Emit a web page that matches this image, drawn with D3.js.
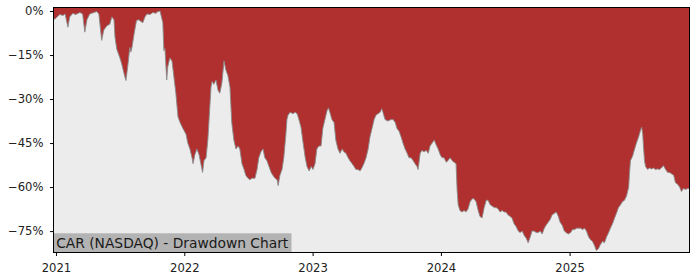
<!DOCTYPE html>
<html>
<head>
<meta charset="utf-8">
<script src="https://cdn.jsdelivr.net/npm/d3@7"></script>
<style>
  body { margin: 0; background: #fff; }
  svg text { font-family: "DejaVu Sans", sans-serif; }
</style>
</head>
<body>
<div class="chart"></div>
<script>
// drawdown of CAR (NASDAQ) in percent
const dates = [
  "2020-12-25","2020-12-29","2021-01-04","2021-01-12","2021-01-21","2021-01-27","2021-02-04","2021-02-09","2021-02-18","2021-02-26",
  "2021-03-10","2021-03-18","2021-03-24","2021-03-30","2021-04-07","2021-04-19","2021-04-27","2021-05-03","2021-05-11","2021-05-17",
  "2021-05-26","2021-06-03","2021-06-09","2021-06-15","2021-06-18","2021-06-23","2021-07-02","2021-07-07","2021-07-13","2021-07-19",
  "2021-07-25","2021-07-30","2021-08-02","2021-08-05","2021-08-11","2021-08-18","2021-08-25","2021-08-31","2021-09-05","2021-09-11",
  "2021-09-17","2021-09-25","2021-10-04","2021-10-12","2021-10-18","2021-10-24","2021-10-28","2021-11-01","2021-11-04","2021-11-07",
  "2021-11-12","2021-11-15","2021-11-21","2021-11-27","2021-12-02","2021-12-08","2021-12-14","2021-12-20","2021-12-28","2022-01-06",
  "2022-01-11","2022-01-17","2022-01-23","2022-01-26","2022-01-31","2022-02-06","2022-02-12","2022-02-17","2022-02-22","2022-02-26",
  "2022-03-04","2022-03-09","2022-03-12","2022-03-15","2022-03-18","2022-03-21","2022-03-26","2022-04-01","2022-04-07","2022-04-12",
  "2022-04-18","2022-04-24","2022-04-29","2022-05-05","2022-05-11","2022-05-16","2022-05-22","2022-05-28","2022-06-03","2022-06-08",
  "2022-06-14","2022-06-20","2022-06-25","2022-07-01","2022-07-07","2022-07-12","2022-07-21","2022-07-27","2022-08-01","2022-08-07",
  "2022-08-13","2022-08-18","2022-08-24","2022-08-30","2022-09-05","2022-09-10","2022-09-16","2022-09-22","2022-09-25","2022-09-30",
  "2022-10-06","2022-10-11","2022-10-17","2022-10-20","2022-10-23","2022-10-29","2022-11-06","2022-11-12","2022-11-18","2022-11-23",
  "2022-11-29","2022-12-05","2022-12-11","2022-12-16","2022-12-22","2022-12-28","2023-01-02","2023-01-08","2023-01-13","2023-01-19",
  "2023-01-25","2023-01-30","2023-02-05","2023-02-11","2023-02-15","2023-02-19","2023-02-25","2023-03-03","2023-03-08","2023-03-14",
  "2023-03-20","2023-03-26","2023-03-31","2023-04-06","2023-04-12","2023-04-17","2023-04-23","2023-04-29","2023-05-04","2023-05-10",
  "2023-05-16","2023-05-21","2023-05-27","2023-06-02","2023-06-08","2023-06-13","2023-06-19","2023-06-25","2023-06-30","2023-07-06",
  "2023-07-12","2023-07-17","2023-07-20","2023-07-26","2023-08-03","2023-08-12","2023-08-18","2023-08-24","2023-08-29","2023-09-04",
  "2023-09-10","2023-09-15","2023-09-21","2023-09-27","2023-10-02","2023-10-08","2023-10-14","2023-10-19","2023-10-25","2023-10-28",
  "2023-11-03","2023-11-08","2023-11-14","2023-11-20","2023-11-26","2023-12-01","2023-12-07","2023-12-13","2023-12-18","2023-12-24",
  "2023-12-30","2024-01-04","2024-01-10","2024-01-16","2024-01-21","2024-01-27","2024-02-02","2024-02-07","2024-02-13","2024-02-16",
  "2024-02-19","2024-02-24","2024-03-01","2024-03-07","2024-03-12","2024-03-18","2024-03-24","2024-03-30","2024-04-04","2024-04-10",
  "2024-04-16","2024-04-21","2024-04-27","2024-05-03","2024-05-09","2024-05-14","2024-05-20","2024-05-26","2024-06-01","2024-06-06",
  "2024-06-12","2024-06-17","2024-06-23","2024-06-29","2024-07-04","2024-07-10","2024-07-16","2024-07-21","2024-07-27","2024-08-02",
  "2024-08-08","2024-08-13","2024-08-19","2024-08-25","2024-08-31","2024-09-05","2024-09-11","2024-09-16","2024-09-22","2024-09-28",
  "2024-10-04","2024-10-09","2024-10-15","2024-10-21","2024-10-26","2024-11-01","2024-11-07","2024-11-12","2024-11-18","2024-11-24",
  "2024-11-30","2024-12-05","2024-12-11","2024-12-17","2024-12-22","2024-12-28","2025-01-04","2025-01-09","2025-01-15","2025-01-21",
  "2025-01-26","2025-02-01","2025-02-07","2025-02-12","2025-02-18","2025-02-24","2025-03-02","2025-03-07","2025-03-13","2025-03-18",
  "2025-03-24","2025-03-30","2025-04-05","2025-04-10","2025-04-16","2025-04-22","2025-04-27","2025-05-03","2025-05-09","2025-05-14",
  "2025-05-20","2025-05-26","2025-05-31","2025-06-06","2025-06-12","2025-06-18","2025-06-20","2025-06-23","2025-06-29","2025-07-05",
  "2025-07-10","2025-07-16","2025-07-22","2025-07-25","2025-07-28","2025-07-30","2025-08-02","2025-08-05","2025-08-11","2025-08-16",
  "2025-08-22","2025-08-28","2025-09-02","2025-09-08","2025-09-14","2025-09-19","2025-09-25","2025-10-01","2025-10-07","2025-10-12",
  "2025-10-18","2025-10-24","2025-10-29","2025-11-04","2025-11-10","2025-11-15","2025-11-21","2025-11-27","2025-12-03","2025-12-08"
];
const drawdown = [
  -2.5,-2.8,-2.0,-1.2,-1.5,-1.0,-5.5,-2.0,-0.8,-1.2,
  -0.5,-1.0,-7.2,-3.0,-1.0,-0.5,-0.2,-1.0,-10.0,-6.5,
  -5.0,-4.5,-2.0,-3.0,-9.0,-13,-16,-18,-21,-23.7,
  -18,-12.4,-14,-12.5,-8,-3.2,-3.0,-3.6,-4.0,-2.0,
  -1.0,-1.2,-0.5,-0.8,-0.2,0,-2.0,-4,-13.5,-12.8,
  -23.5,-19,-16,-17,-22,-28,-36,-38,-40,-42,
  -45,-47,-50,-52,-49,-47,-49,-52,-55,-51,
  -50,-44,-38,-32,-26,-24,-25,-23.5,-27,-28,
  -24.5,-17,-20,-22,-26,-38,-44,-47,-46,-47,
  -52,-54,-56,-57,-57.5,-57,-57,-54,-50,-48,
  -47,-50,-51,-53,-55,-56,-57,-57.5,-59.5,-56,
  -54,-50,-42,-37,-35.5,-34.5,-35,-34.5,-35,-37,
  -39.6,-45,-50,-53,-54.5,-53,-54,-52,-47,-46,
  -46,-40,-37,-34,-33,-34.5,-37,-38,-44,-47,
  -48.5,-47,-48,-48.5,-50,-51,-52,-53,-54,-54,
  -54.5,-53.5,-52,-50,-47,-43,-40,-37,-35.5,-35,
  -34.5,-33.3,-34.5,-37,-37.5,-37,-37,-38,-40,-41,
  -43,-45,-47,-48.5,-50,-50,-51,-52,-53,-54,
  -48.5,-47.5,-48,-47.5,-48.5,-46,-45,-44,-45.5,-47,
  -49,-50,-50,-51.5,-51,-50,-51,-51.5,-52,-61,
  -66,-68,-68.5,-68,-68.5,-67.5,-65,-64,-64,-65,
  -68,-70,-70.5,-67,-64.5,-64.5,-66,-66.5,-67,-67,
  -67.5,-68.5,-68,-68.5,-68.5,-69.5,-70,-70.5,-72.5,-73.5,
  -75,-75.5,-75,-76.5,-77.5,-79,-77,-75,-75,-75.5,
  -75.5,-75,-76,-74,-73,-72,-71,-69.5,-69,-68.5,
  -70,-72,-73,-75,-75.5,-76,-75.5,-74.5,-74.5,-74,
  -74,-74,-74.5,-74,-75,-77,-78,-78.5,-80,-81.6,
  -81,-79.5,-78.5,-79,-77,-75.5,-74,-72.5,-70.5,-69,
  -67,-66,-65,-64.5,-63,-60,-56,-51,-49.5,-47,
  -45,-43,-40.5,-39.6,-42,-46,-51,-53,-54,-53.5,
  -53.8,-53.5,-54,-53.8,-54,-53.5,-52.7,-54,-55,-55,
  -55.5,-56,-58.5,-59,-60,-61.5,-60.5,-60.8,-60.5,-60.5
];
const yTicks = [0, -15, -30, -45, -60, -75];
const xTicks = ["2021-01-01", "2022-01-01", "2023-01-01", "2024-01-01", "2025-01-01"];
const title = "CAR (NASDAQ) - Drawdown Chart";

const width = 700, height = 280;
const margin = {top: 7.5, right: 10.5, bottom: 27.5, left: 53.5};
const innerWidth = width - margin.left - margin.right;
const innerHeight = height - margin.top - margin.bottom;

const parseDate = d3.timeParse("%Y-%m-%d");
const data = dates.map((d, i) => ({date: parseDate(d), value: drawdown[i]}));

const x = d3.scaleTime()
  .domain(d3.extent(data, d => d.date))
  .range([0, innerWidth]);
const y = d3.scaleLinear()
  .domain([-82.3, 1.2])
  .range([innerHeight, 0]);

const svg = d3.select(".chart").append("svg")
  .attr("width", width)
  .attr("height", height)
  .append("g")
  .attr("transform", "translate(" + margin.left + "," + margin.top + ")");

// plot background
svg.append("rect")
  .attr("width", innerWidth)
  .attr("height", innerHeight)
  .attr("fill", "#ececec");

// drawdown area, filled from the top of the plot down to the curve
const area = d3.area()
  .x(d => x(d.date))
  .y0(0)
  .y1(d => y(d.value));

svg.append("path")
  .datum(data)
  .attr("fill", "#b03030")
  .attr("d", area);

const line = d3.line()
  .x(d => x(d.date))
  .y(d => y(d.value));

svg.append("path")
  .datum(data)
  .attr("fill", "none")
  .attr("stroke", "#8a8a8a")
  .attr("stroke-width", 0.9)
  .attr("d", line);

// title box
const label = svg.append("g");
label.append("rect")
  .attr("x", 0)
  .attr("y", innerHeight - 19.2)
  .attr("width", 238)
  .attr("height", 19.2)
  .attr("fill", "#b3b3b3");
label.append("text")
  .attr("x", 2.7)
  .attr("y", innerHeight - 5)
  .attr("fill", "#1a1a1a")
  .style("font-size", "13.8px")
  .text(title);

// axes
const fmtPct = d => (d < 0 ? "\u2212" : "") + Math.abs(d) + "%";

const yAxis = svg.append("g")
  .call(d3.axisLeft(y).tickValues(yTicks).tickFormat(fmtPct).tickSize(3.5).tickPadding(6.5));

const xAxis = svg.append("g")
  .attr("transform", "translate(0," + innerHeight + ")")
  .call(d3.axisBottom(x).tickValues(xTicks.map(parseDate)).tickFormat(d3.timeFormat("%Y")).tickSize(3.5).tickPadding(7.5));

[yAxis, xAxis].forEach(ax => {
  ax.select(".domain").remove();
  ax.selectAll("line").attr("stroke", "#000");
  ax.selectAll("text")
    .attr("fill", "#222")
    .style("font-size", "11.6px")
    .style("font-family", "DejaVu Sans, sans-serif");
});

// spines
svg.append("rect")
  .attr("width", innerWidth)
  .attr("height", innerHeight)
  .attr("fill", "none")
  .attr("stroke", "#000")
  .attr("stroke-width", 1);
</script>
</body>
</html>
